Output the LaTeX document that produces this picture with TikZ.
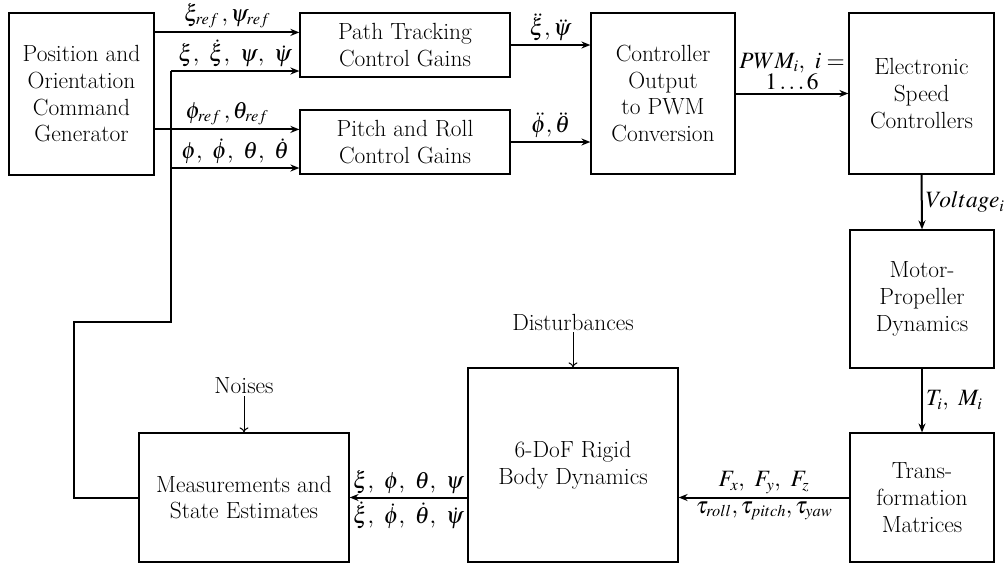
\documentclass[tikz,border=0pt]{standalone}
\usepackage{mathptmx}
\renewcommand{\rmdefault}{lmr}
\usetikzlibrary{arrows.meta,calc}
\DeclareMathSizes{23.4}{23.4}{16.4}{11.7}
\tikzset{
  txt/.style={font=\fontsize{23.4}{26.7}\selectfont, inner sep=2pt},
  blk/.style={txt, draw, line width=1.2pt, align=center, inner sep=0pt},
  fat/.style={line width=2pt},
  arr/.style={fat, -{Stealth[length=9pt,width=7pt]}},
  thinarr/.style={line width=1pt, -{To[length=5pt,width=9pt]}},
  lab/.style={txt, inner sep=3pt}
}
\begin{document}
\begin{tikzpicture}[x=1pt,y=-1pt]
\useasboundingbox (0,0) rectangle (1008,565);
% blocks
\node[blk, minimum width=145pt, minimum height=162pt] (pos) at (81.5,94) {Position and\\Orientation\\Command\\Generator};
\node[blk, minimum width=210pt, minimum height=64pt] (path) at (405,45) {Path Tracking\\Control Gains};
\node[blk, minimum width=210pt, minimum height=64pt] (pitch) at (405,142) {Pitch and Roll\\Control Gains};
\node[blk, minimum width=144pt, minimum height=161pt] (ctrl) at (663,93.5) {Controller\\Output\\to PWM\\Conversion};
\node[blk, minimum width=145pt, minimum height=161pt] (esc) at (921.5,93.5) {Electronic\\Speed\\Controllers};
\node[blk, minimum width=144pt, minimum height=138pt] (motor) at (922,299) {Motor-\\Propeller\\Dynamics};
\node[blk, minimum width=144pt, minimum height=129pt] (trans) at (922,497.5) {Trans-\\formation\\Matrices};
\node[blk, minimum width=210pt, minimum height=194pt] (rigid) at (573,465) {6-DoF Rigid\\Body Dynamics};
\node[blk, minimum width=210pt, minimum height=129pt] (meas) at (244,497.5) {Measurements and\\State Estimates};
% inputs
\node[txt] (dist) at (573,322) {Disturbances};
\node[txt] (noise) at (244,386) {Noises};
\draw[thinarr] (dist.south) -- (rigid.north);
\draw[thinarr] (noise.south) -- (meas.north);
% commands
\coordinate (c1) at ($(pos.north east)+(0,20)$);
\coordinate (c2) at ($(pos.north east)+(0,117)$);
\draw[arr] (c1) -- node[lab, above] {$\xi_{ref}\,,\psi_{ref}$} (c1 -| path.west);
\draw[arr] (c2) -- node[lab, above] {$\phi_{ref}\,,\theta_{ref}$} (c2 -| pitch.west);
% feedback
\coordinate (fbA) at (74,322);
\coordinate (fbB) at (171,322);
\coordinate (fbT) at (171,71);
\coordinate (fbM) at (171,168);
\draw[fat] (meas.west) -| (fbA) -- (fbB) -- (fbT);
\draw[arr] (fbT) -- node[lab, above] {$\xi,\ \dot{\xi},\ \psi,\ \dot{\psi}$} (fbT -| path.west);
\draw[arr] (fbM) -- node[lab, above] {$\phi,\ \dot{\phi},\ \theta,\ \dot{\theta}$} (fbM -| pitch.west);
% gains to controller
\draw[arr] (path.east) -- node[lab, above] {$\ddot{\xi},\ddot{\psi}$} (path.east -| ctrl.west);
\draw[arr] (pitch.east) -- node[lab, above] {$\ddot{\phi},\ddot{\theta}$} (pitch.east -| ctrl.west);
\draw[arr] (ctrl.east) -- node[lab, above, align=center] {$PWM_i,\ i=$\\[-6pt]$1\ldots6$} (esc.west);
\draw[arr] (esc.south) -- node[lab, right] {$Voltage_i$} (motor.north);
\draw[arr] (motor.south) -- node[lab, right] {$T_i,\ M_i$} (trans.north);
\draw[arr] (trans.west) -- node[lab, above] {$F_x,\ F_y,\ F_z$} node[lab, below] {$\tau_{roll},\tau_{pitch},\tau_{yaw}$} (trans.west -| rigid.east);
\draw[arr] (rigid.west |- trans.west) -- node[lab, above] {$\xi,\ \phi,\ \theta,\ \psi$} node[lab, below] {$\dot{\xi},\ \dot{\phi},\ \dot{\theta},\ \dot{\psi}$} (meas.east);
\end{tikzpicture}
\end{document}
